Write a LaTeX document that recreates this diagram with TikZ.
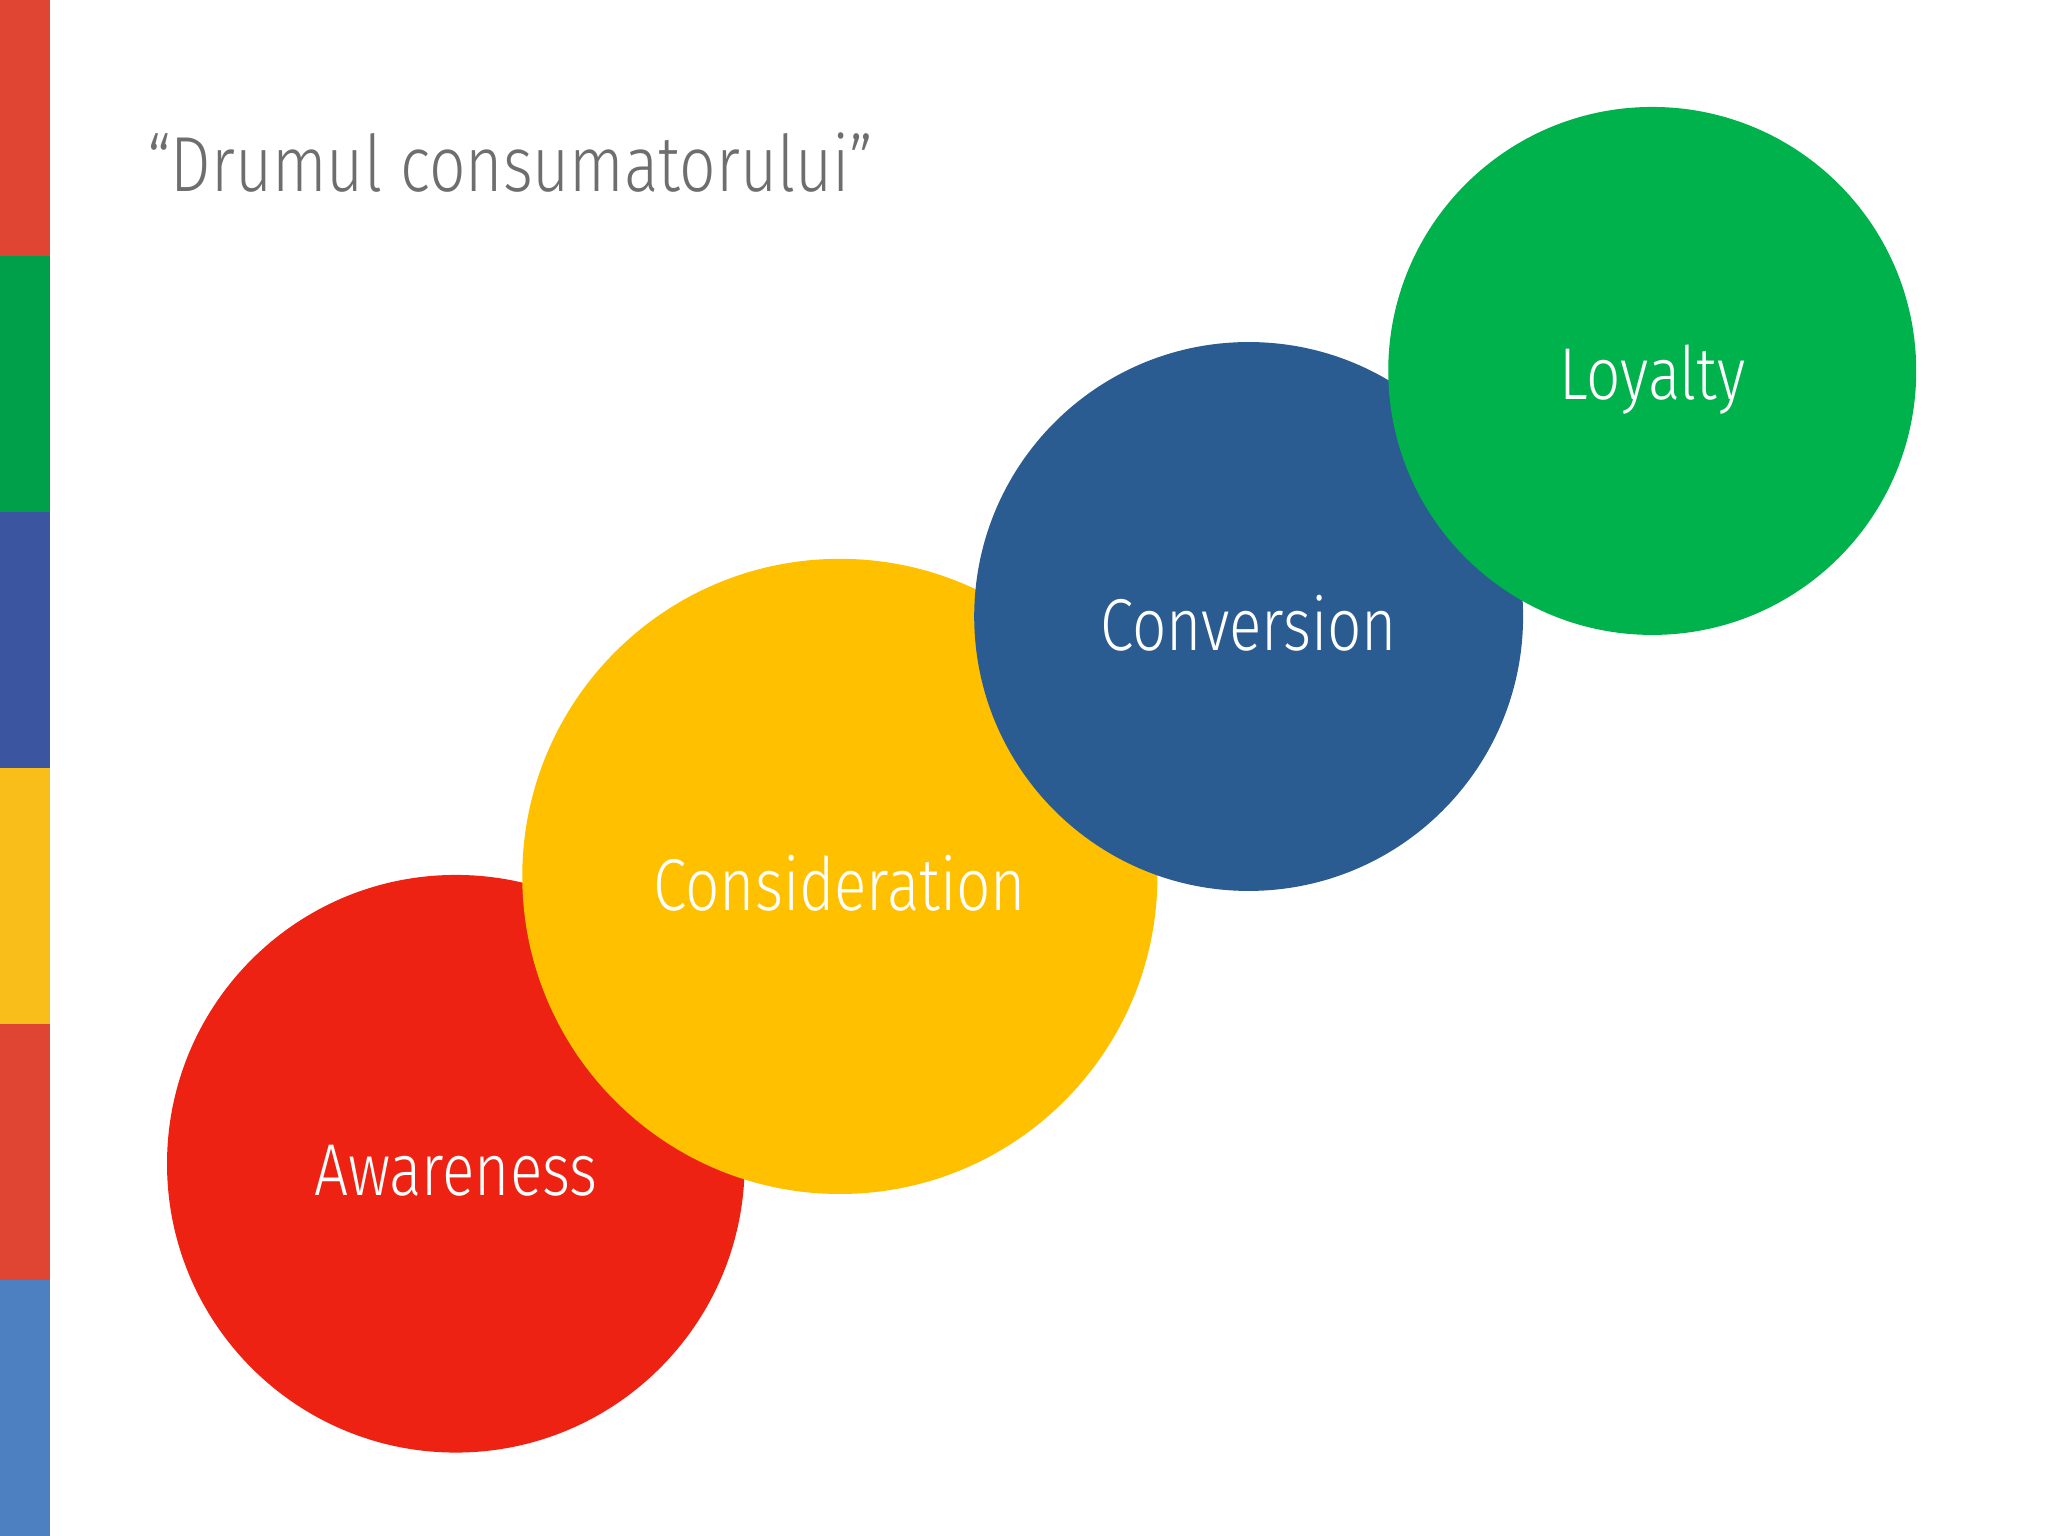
\documentclass[tikz,border=0pt]{standalone}
\usepackage{fontspec}
\setmainfont{Fira Sans Light}[FakeStretch=0.82]
\begin{document}
\begin{tikzpicture}[x=0.01cm,y=-0.01cm,
  lbl/.style={text=white,font=\fontsize{16}{18}\selectfont},
  stage/.style={circle,inner sep=0pt}]
\definecolor{cRed}{HTML}{EE2212}
\definecolor{cYel}{HTML}{FFC000}
\definecolor{cBlu}{HTML}{2A5C91}
\definecolor{cGrn}{HTML}{00B24C}
\useasboundingbox[fill=white] (0,0) rectangle (1568,1176);
\fill[fill={rgb,255:red,224;green,68;blue,51}] (0,0) rectangle (38,196);
\fill[fill={rgb,255:red,0;green,160;blue,74}] (0,196) rectangle (38,392);
\fill[fill={rgb,255:red,59;green,85;blue,160}] (0,392) rectangle (38,588);
\fill[fill={rgb,255:red,249;green,190;blue,26}] (0,588) rectangle (38,784);
\fill[fill={rgb,255:red,224;green,68;blue,51}] (0,784) rectangle (38,980);
\fill[fill={rgb,255:red,76;green,128;blue,192}] (0,980) rectangle (38,1176);
\node[anchor=base west,text={rgb,255:red,110;green,110;blue,110},font=\fontsize{17}{20}\selectfont,inner sep=0pt] (title) at (112,147) {“Drumul consumatorului”};
\node[stage,fill=cRed,minimum size=4.42cm] (aw) at (349,891) {};
\node[stage,fill=cYel,minimum size=4.86cm] (co) at (643,671) {};
\node[stage,fill=cBlu,minimum size=4.2cm] (cv) at (956,472) {};
\node[stage,fill=cGrn,minimum size=4.04cm] (lo) at (1265,284) {};
\node[lbl] at (349,896) {Awareness};
\node[lbl] at (643,676) {Consideration};
\node[lbl] at (956,477) {Conversion};
\node[lbl] at (1265,291) {Loyalty};
\end{tikzpicture}
\end{document}
